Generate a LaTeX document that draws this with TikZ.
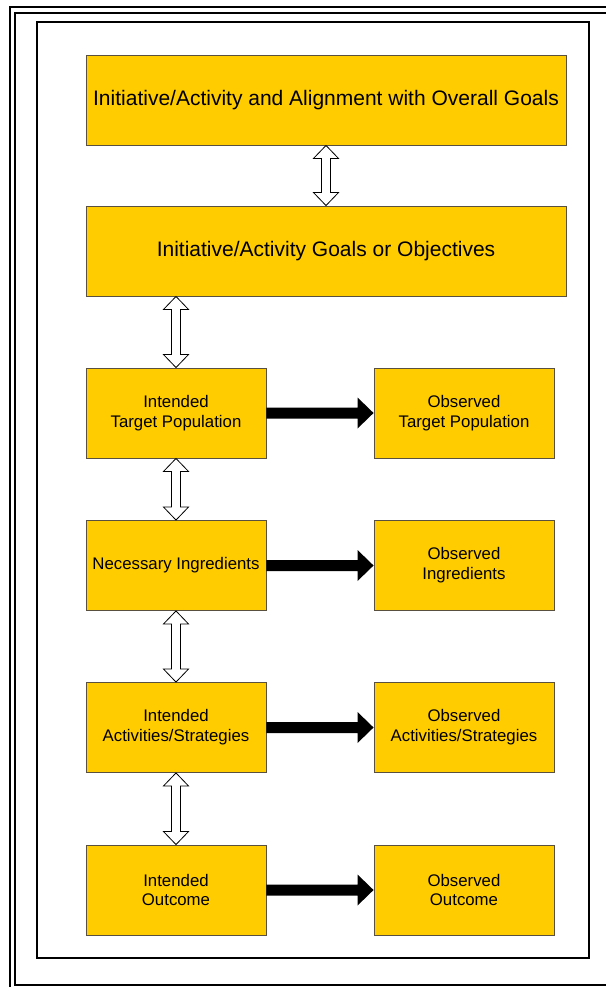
\documentclass[tikz,border=0pt]{standalone}
\usepackage{fontspec}
\setmainfont{Liberation Sans}
\usetikzlibrary{calc}
\definecolor{gold}{HTML}{FFCC00}
\definecolor{edge}{HTML}{5A5040}
\tikzset{
  box/.style={draw=edge, line width=0.9pt, fill=gold, inner sep=2pt, align=center, anchor=center},
  bigbox/.style={box, minimum width=480pt, minimum height=90pt, font=\fontsize{21}{24}\selectfont},
  smallbox/.style={box, minimum width=180pt, minimum height=90pt, font=\fontsize{16.8}{19.8}\selectfont},
  hollow/.style={draw=black, line width=0.8pt, fill=white, line join=miter},
  solidarrow/.style={fill=black, draw=none},
}
\newcommand\hollowdbl[2]{%
  \path[hollow] let \p1=(#1), \p2=(#2) in
    (\x1,\y1) -- (\x1+12.5pt,\y1-13pt) -- (\x1+4.5pt,\y1-13pt) -- (\x1+4.5pt,\y2+13pt)
    -- (\x1+12.5pt,\y2+13pt) -- (\x1,\y2) -- (\x1-12.5pt,\y2+13pt) -- (\x1-4.5pt,\y2+13pt)
    -- (\x1-4.5pt,\y1-13pt) -- (\x1-12.5pt,\y1-13pt) -- cycle;}
\newcommand\solidright[2]{%
  \path[solidarrow] let \p1=(#1), \p2=(#2) in
    (\x1,\y1+5.5pt) -- (\x2-16pt,\y1+5.5pt) -- (\x2-16pt,\y1+15.5pt) -- (\x2,\y1)
    -- (\x2-16pt,\y1-15.5pt) -- (\x2-16pt,\y1-5.5pt) -- (\x1,\y1-5.5pt) -- cycle;}
\begin{document}
\begin{tikzpicture}[x=1pt, y=-1pt]
\useasboundingbox (0,0) rectangle (605,987);
\fill[white] (0,0) rectangle (605,987);
% frames
\draw[line width=1.7pt] (10,1000) -- (10,7) -- (620,7);
\draw[line width=2.3pt] (620,13) -- (15,13) -- (15,985) -- (620,985);
\draw[line width=1.3pt] (37,22) rectangle (589,958);
% boxes
\node[bigbox] (top) at (326,100) {Initiative/Activity and Alignment with Overall Goals};
\node[bigbox] (goals) at (326,251) {Initiative/Activity Goals or Objectives};
\node[smallbox] (l1) at (176,413) {Intended\\Target Population};
\node[smallbox] (r1) at (464,413) {Observed\\Target Population};
\node[smallbox] (l2) at (176,565.5) {Necessary Ingredients};
\node[smallbox] (r2) at (464,565.5) {Observed\\Ingredients};
\node[smallbox] (l3) at (176,727.5) {Intended\\Activities/Strategies};
\node[smallbox] (r3) at (464,727.5) {Observed\\Activities/Strategies};
\node[smallbox] (l4) at (176,890) {Intended\\Outcome};
\node[smallbox] (r4) at (464,890) {Observed\\Outcome};
% connectors
\coordinate (g1) at (goals.south -| l1.north);
\hollowdbl{top.south}{goals.north}
\hollowdbl{g1}{l1.north}
\hollowdbl{l1.south}{l2.north}
\hollowdbl{l2.south}{l3.north}
\hollowdbl{l3.south}{l4.north}
\solidright{l1.east}{r1.west}
\solidright{l2.east}{r2.west}
\solidright{l3.east}{r3.west}
\solidright{l4.east}{r4.west}
\end{tikzpicture}
\end{document}
